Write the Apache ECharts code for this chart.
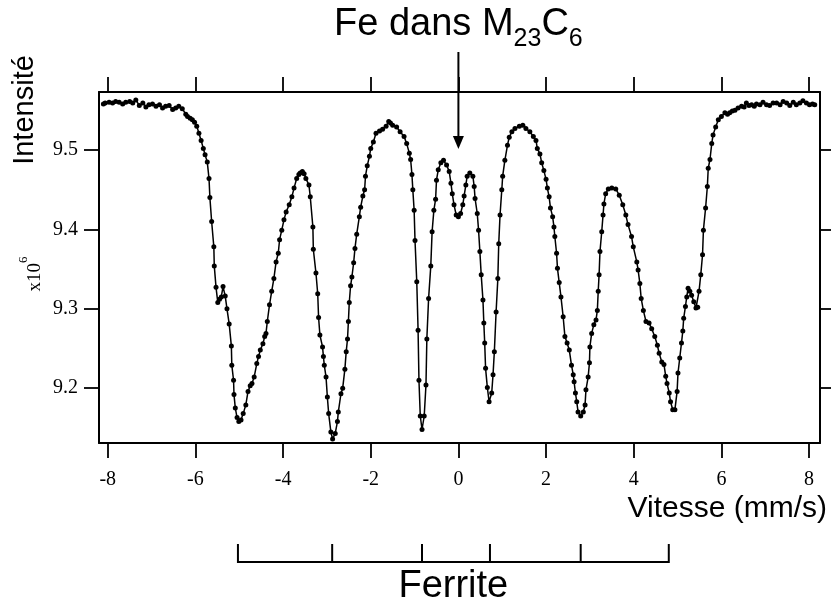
<!DOCTYPE html>
<html>
<head>
<meta charset="utf-8">
<script src="https://cdn.jsdelivr.net/npm/echarts@6/dist/echarts.min.js"></script>
<style>
html,body{margin:0;padding:0;background:#fff;}
#chart{width:831px;height:607px;}
</style>
</head>
<body>
<div id="chart"></div>
<script>
// Velocity (mm/s) and intensity (x10^6)
const velocity = [
-8.10,-8.06,-7.97,-7.89,-7.82,-7.74,-7.66,-7.59,-7.50,-7.43,-7.36,-7.28,-7.20,-7.13,-7.06,-6.98,-6.90,-6.82,-6.75,-6.68,
-6.60,-6.52,-6.45,-6.38,-6.30,-6.22,-6.18,-6.12,-6.07,-6.02,-5.97,-5.92,-5.87,-5.82,-5.78,-5.73,-5.69,-5.67,-5.63,-5.58,
-5.57,-5.53,-5.49,-5.45,-5.41,-5.37,-5.32,-5.28,-5.23,-5.18,-5.17,-5.13,-5.12,-5.09,-5.05,-5.01,-4.96,-4.91,-4.85,-4.80,
-4.75,-4.71,-4.66,-4.60,-4.56,-4.52,-4.46,-4.42,-4.39,-4.36,-4.31,-4.26,-4.21,-4.16,-4.11,-4.08,-4.03,-3.98,-3.93,-3.86,
-3.80,-3.75,-3.69,-3.64,-3.61,-3.56,-3.52,-3.48,-3.41,-3.38,-3.32,-3.31,-3.25,-3.21,-3.19,-3.16,-3.10,-3.08,-3.06,-3.02,
-2.99,-2.96,-2.91,-2.87,-2.81,-2.76,-2.74,-2.68,-2.64,-2.59,-2.56,-2.53,-2.51,-2.49,-2.46,-2.43,-2.39,-2.36,-2.32,-2.26,
-2.23,-2.18,-2.14,-2.12,-2.08,-2.03,-2.00,-1.94,-1.88,-1.80,-1.73,-1.65,-1.59,-1.55,-1.50,-1.41,-1.33,-1.24,-1.18,-1.12,
-1.09,-1.06,-1.04,-1.01,-0.99,-0.95,-0.92,-0.90,-0.87,-0.83,-0.78,-0.74,-0.72,-0.68,-0.63,-0.60,-0.56,-0.52,-0.50,-0.46,
-0.40,-0.34,-0.27,-0.21,-0.17,-0.14,-0.10,-0.05,0.00,0.05,0.10,0.13,0.17,0.20,0.26,0.33,0.36,0.38,0.43,0.46,
0.49,0.52,0.56,0.58,0.60,0.62,0.66,0.70,0.76,0.79,0.82,0.86,0.90,0.92,0.95,0.99,1.01,1.06,1.12,1.16,
1.22,1.29,1.39,1.47,1.54,1.63,1.71,1.77,1.80,1.86,1.90,1.95,2.00,2.03,2.07,2.10,2.15,2.18,2.20,2.24,
2.26,2.30,2.34,2.39,2.43,2.48,2.53,2.58,2.62,2.64,2.67,2.70,2.73,2.79,2.85,2.89,2.91,2.96,2.99,3.00,
3.04,3.09,3.14,3.17,3.19,3.21,3.23,3.27,3.30,3.32,3.36,3.42,3.50,3.59,3.67,3.75,3.82,3.87,3.95,3.99,
4.07,4.10,4.14,4.17,4.22,4.28,4.35,4.41,4.48,4.54,4.58,4.64,4.69,4.73,4.76,4.81,4.84,4.89,4.94,4.99,
5.01,5.05,5.09,5.12,5.14,5.18,5.21,5.24,5.28,5.32,5.37,5.42,5.46,5.49,5.53,5.57,5.59,5.64,5.68,5.70,
5.74,5.78,5.81,5.87,5.93,6.00,6.08,6.14,6.19,6.25,6.31,6.38,6.46,6.52,6.57,6.63,6.69,6.75,6.80,6.88,
6.95,7.03,7.10,7.18,7.26,7.34,7.41,7.49,7.56,7.64,7.71,7.79,7.86,7.94,8.01,8.08,8.13
];
const intensity = [
9.558,9.559,9.560,9.559,9.561,9.560,9.558,9.560,9.561,9.559,9.563,9.556,9.559,9.554,9.557,9.558,9.555,9.557,9.553,9.555,
9.556,9.551,9.553,9.555,9.552,9.545,9.542,9.540,9.538,9.535,9.530,9.521,9.512,9.502,9.494,9.485,9.464,9.440,9.410,9.378,
9.354,9.327,9.308,9.312,9.315,9.328,9.316,9.300,9.281,9.253,9.229,9.210,9.192,9.175,9.163,9.158,9.160,9.168,9.179,9.196,
9.203,9.206,9.214,9.231,9.240,9.248,9.256,9.265,9.269,9.284,9.305,9.322,9.338,9.359,9.370,9.387,9.399,9.412,9.422,9.431,
9.441,9.452,9.464,9.469,9.471,9.473,9.470,9.464,9.456,9.441,9.403,9.375,9.345,9.319,9.289,9.267,9.252,9.240,9.229,9.214,
9.189,9.168,9.145,9.136,9.143,9.158,9.170,9.193,9.200,9.224,9.246,9.262,9.284,9.308,9.329,9.340,9.358,9.376,9.394,9.416,
9.428,9.442,9.450,9.467,9.480,9.492,9.502,9.510,9.521,9.524,9.526,9.530,9.536,9.534,9.531,9.529,9.523,9.517,9.508,9.496,
9.488,9.469,9.450,9.424,9.386,9.334,9.273,9.210,9.165,9.148,9.165,9.204,9.262,9.313,9.354,9.397,9.424,9.438,9.462,9.475,
9.484,9.487,9.481,9.473,9.458,9.445,9.431,9.418,9.416,9.420,9.431,9.442,9.456,9.467,9.471,9.467,9.454,9.439,9.420,9.399,
9.372,9.343,9.311,9.282,9.257,9.225,9.201,9.183,9.194,9.217,9.246,9.296,9.338,9.382,9.418,9.450,9.467,9.487,9.506,9.516,
9.523,9.527,9.530,9.531,9.527,9.523,9.517,9.512,9.502,9.495,9.484,9.474,9.463,9.452,9.441,9.427,9.416,9.403,9.391,9.370,
9.351,9.333,9.315,9.290,9.265,9.257,9.248,9.229,9.217,9.208,9.194,9.183,9.170,9.165,9.170,9.179,9.198,9.214,9.232,9.252,
9.269,9.280,9.286,9.298,9.322,9.343,9.372,9.397,9.418,9.432,9.445,9.451,9.452,9.451,9.443,9.431,9.418,9.406,9.391,9.378,
9.359,9.349,9.332,9.313,9.298,9.284,9.282,9.275,9.265,9.254,9.244,9.233,9.230,9.215,9.206,9.194,9.183,9.173,9.173,9.196,
9.219,9.238,9.257,9.272,9.288,9.303,9.315,9.326,9.322,9.317,9.309,9.301,9.302,9.322,9.343,9.368,9.399,9.427,9.454,9.477,
9.488,9.508,9.519,9.529,9.538,9.542,9.547,9.545,9.547,9.549,9.550,9.553,9.555,9.554,9.559,9.556,9.557,9.555,9.558,9.557,
9.560,9.557,9.556,9.559,9.559,9.557,9.561,9.559,9.556,9.560,9.557,9.559,9.562,9.559,9.557,9.558,9.557
];
const xTicks = [-8, -6, -4, -2, 0, 2, 4, 6, 8];
const yTicks = [9.2, 9.3, 9.4, 9.5];
const ferriteLines = [-5.03, -2.88, -0.83, 0.72, 2.79, 4.80];
const carbideLine = 0;

const X_MIN = -8.2, X_MAX = 8.25, Y_MIN = 9.131, Y_MAX = 9.573;
const black = '#000';
const points = velocity.map((v, i) => [v, intensity[i]]);

const chart = echarts.init(document.getElementById('chart'), null, {renderer: 'canvas'});
const axisLine = {show: true, onZero: false, lineStyle: {color: black, width: 2}};
const tickStyle = {color: black, width: 1.8};

chart.setOption({
  animation: false,
  backgroundColor: '#fff',
  grid: {left: 99, right: 11, top: 92, bottom: 164, containLabel: false},
  xAxis: [
    {type: 'value', position: 'bottom', min: X_MIN, max: X_MAX, axisLine: axisLine,
     axisTick: {show: true, inside: false, length: 15, lineStyle: tickStyle, customValues: xTicks},
     axisLabel: {show: true, customValues: xTicks, margin: 27, color: black, fontSize: 20,
                 fontFamily: 'Liberation Serif', formatter: v => String(v)},
     splitLine: {show: false}},
    {type: 'value', position: 'top', min: X_MIN, max: X_MAX, axisLine: axisLine,
     axisTick: {show: true, inside: false, length: 15, lineStyle: tickStyle, customValues: xTicks},
     axisLabel: {show: false}, splitLine: {show: false}}
  ],
  yAxis: [
    {type: 'value', position: 'left', min: Y_MIN, max: Y_MAX, axisLine: axisLine,
     axisTick: {show: true, inside: false, length: 15, lineStyle: tickStyle, customValues: yTicks},
     axisLabel: {show: true, customValues: yTicks, margin: 21, color: black, fontSize: 20,
                 fontFamily: 'Liberation Serif', formatter: v => v.toFixed(1)},
     splitLine: {show: false}},
    {type: 'value', position: 'right', min: Y_MIN, max: Y_MAX, axisLine: axisLine,
     axisTick: {show: true, inside: false, length: 12, lineStyle: tickStyle, customValues: yTicks},
     axisLabel: {show: false}, splitLine: {show: false}}
  ],
  series: [{
    type: 'line', xAxisIndex: 0, yAxisIndex: 0, data: points,
    symbol: 'circle', symbolSize: 5, showSymbol: true, showAllSymbol: true,
    lineStyle: {color: black, width: 1.5}, itemStyle: {color: black},
    clip: false, z: 3
  }]
});

// Annotation graphics placed through the axis scales
const px = v => chart.convertToPixel({xAxisIndex: 0}, v);
const ax = px(carbideLine);
const fx = ferriteLines.map(px);
const bracketY = 562, bracketTop = 544;
const graphics = [];
// Title
graphics.push({type: 'text', z: 10, style: {
  x: ax, y: 25, align: 'center', verticalAlign: 'middle',
  text: '{a|Fe dans M}{s|23}{a|C}{s|6}', fill: black,
  rich: {
    a: {fontSize: 38, fontFamily: 'Liberation Sans', lineHeight: 56, fill: black},
    s: {fontSize: 25, fontFamily: 'Liberation Sans', lineHeight: 24, padding: [28, 0, 0, 0], fill: black}
  }}});
// Arrow
graphics.push({type: 'line', z: 10, shape: {x1: ax, y1: 52, x2: ax, y2: 138}, style: {stroke: black, lineWidth: 2}});
graphics.push({type: 'polygon', z: 10, shape: {points: [[ax - 5.5, 136], [ax + 5.5, 136], [ax, 149]]}, style: {fill: black}});
// Ferrite bracket
graphics.push({type: 'line', z: 10, shape: {x1: fx[0], y1: bracketY, x2: fx[fx.length - 1], y2: bracketY}, style: {stroke: black, lineWidth: 2}});
fx.forEach(x => graphics.push({type: 'line', z: 10, shape: {x1: x, y1: bracketTop, x2: x, y2: bracketY + 1}, style: {stroke: black, lineWidth: 2}}));
graphics.push({type: 'text', z: 10, style: {x: (fx[0] + fx[fx.length - 1]) / 2, y: 587, align: 'center', verticalAlign: 'middle',
  text: 'Ferrite', fontSize: 38, fontFamily: 'Liberation Sans', fill: black}});
// Axis names
graphics.push({type: 'text', z: 10, style: {x: 827, y: 509, align: 'right', verticalAlign: 'middle',
  text: 'Vitesse (mm/s)', fontSize: 30, fontFamily: 'Liberation Sans', fill: black}});
graphics.push({type: 'text', z: 10, x: 25, y: 110, rotation: Math.PI / 2, style: {x: 0, y: 0, align: 'center', verticalAlign: 'middle',
  text: 'Intensité', fontSize: 29, fontFamily: 'Liberation Sans', fill: black}});
graphics.push({type: 'text', z: 10, x: 35, y: 274, rotation: Math.PI / 2, style: {x: 0, y: 0, align: 'center', verticalAlign: 'middle',
  text: '{a|x10}{b|6}', fill: black,
  rich: {
    a: {fontSize: 19, fontFamily: 'Liberation Serif', lineHeight: 40, fill: black},
    b: {fontSize: 13, fontFamily: 'Liberation Serif', lineHeight: 14, padding: [0, 0, 22, 0], fill: black}
  }}});
chart.setOption({graphic: {elements: graphics}});
</script>
</body>
</html>
